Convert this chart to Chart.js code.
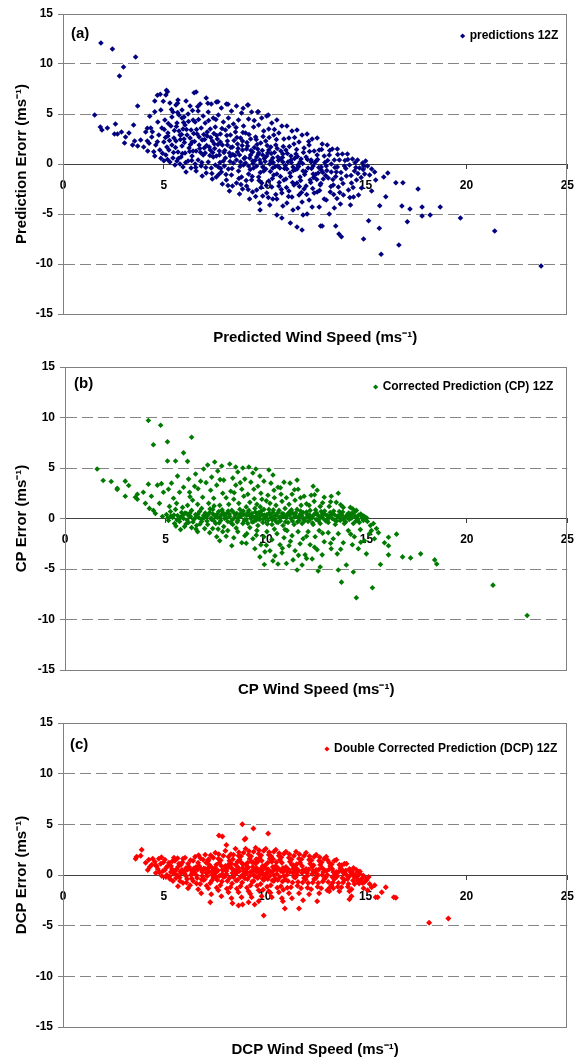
<!DOCTYPE html>
<html>
<head>
<meta charset="utf-8">
<title>Wind speed prediction errors (12Z)</title>
<script src="https://cdn.jsdelivr.net/npm/chart.js@4.4.1/dist/chart.umd.min.js"></script>
<style>
  html, body { margin: 0; background: #fff; overflow: hidden; }
  canvas { position: absolute; left: 0; }
</style>
</head>
<body>
<canvas id="chartA" width="584" height="352" style="top:0px"></canvas>
<canvas id="chartB" width="584" height="354" style="top:352px"></canvas>
<canvas id="chartC" width="584" height="355" style="top:706px"></canvas>
<script>
// tick values shared by the three panels
const X_TICKS = [0, 5, 10, 15, 20, 25];
const Y_TICKS = [-15, -10, -5, 0, 5, 10, 15];

// (a) raw predictions 12Z: [predicted wind speed, prediction error]
const predictions = [
  [1.57,4.9],[1.88,12.1],[2.45,11.5],[3.0,9.7],[2.8,8.8],[3.6,10.7],[1.85,3.7],[1.93,3.4],[2.2,3.6],[2.6,4.0],
  [2.55,3.0],[2.7,3.0],[2.9,3.2],[3.05,2.1],[3.27,3.1],[3.1,2.7],[3.5,3.9],[3.7,5.8],[3.45,1.9],[3.7,1.8],
  [3.55,2.3],[3.85,2.4],[4.0,1.7],[4.18,2.3],[4.1,3.2],[4.2,1.3],[4.35,3.6],[4.68,6.87],[4.82,6.97],[5.13,7.37],
  [4.55,6.3],[4.97,6.27],[4.3,4.77],[4.55,5.23],[4.85,5.4],[4.18,3.57],[4.43,3.23],[4.27,2.07],[4.68,2.23],[4.5,1.23],
  [4.93,1.07],[5.0,0.33],[4.85,0.57],[4.4,2.7],[4.6,1.9],[4.75,2.9],[4.55,0.8],[4.8,1.4],[4.9,3.6],[4.7,4.2],
  [5.1,6.9],[5.3,6.1],[5.45,5.2],[5.05,4.4],[5.35,3.8],[5.2,3.1],[5.5,2.6],[5.0,2.2],[5.4,1.9],[5.25,1.4],
  [5.1,0.9],[5.45,0.6],[5.3,0.2],[5.55,-0.1],[5.15,1.7],[5.4,4.7],[5.6,5.9],[5.2,2.8],
  [5.7,6.4],[5.9,5.4],[5.75,4.9],[5.65,4.1],[5.95,3.5],[5.8,2.9],[5.6,2.3],[5.9,1.8],[5.7,1.2],[5.85,0.7],
  [5.65,0.3],[5.95,-0.3],[5.8,0.0],[5.75,3.3],[6.0,2.5],[5.9,4.6],
  [6.1,6.3],[6.3,5.8],[6.2,5.0],[6.45,4.4],[6.05,3.9],[6.35,3.4],[6.15,2.9],[6.4,2.2],[6.25,1.6],[6.05,1.1],
  [6.4,0.8],[6.2,0.3],[6.35,-0.4],[6.1,-0.8],[6.45,1.3],[6.3,2.6],[6.0,4.7],
  [6.6,7.2],[6.8,6.0],[6.7,5.3],[6.95,4.8],[6.55,4.2],[6.85,3.6],[6.65,3.0],[6.9,2.4],[6.75,1.9],[6.6,1.3],
  [6.95,0.9],[6.7,0.4],[6.85,-0.2],[6.6,-0.7],[6.9,-1.2],[6.75,2.7],[6.55,0.0],[7.0,1.6],
  [7.1,6.6],[7.35,6.0],[7.2,5.2],[7.45,4.6],[7.05,4.1],[7.3,3.5],[7.15,2.8],[7.4,2.3],[7.25,1.7],[7.05,1.1],
  [7.45,0.7],[7.2,0.2],[7.35,-0.4],[7.1,-0.9],[7.4,-1.5],[7.3,1.4],[7.15,3.2],[7.5,2.0],
  [7.6,6.2],[7.85,5.6],[7.7,4.9],[7.95,4.2],[7.55,3.7],[7.8,3.0],[7.65,2.5],[7.9,1.9],[7.75,1.3],[7.6,0.8],
  [7.95,0.3],[7.7,-0.3],[7.85,-0.8],[7.6,-1.3],[7.9,-2.0],[7.75,0.9],[7.8,2.2],[7.55,-0.1],
  [8.1,6.0],[8.35,5.3],[8.2,4.6],[8.45,4.0],[8.05,3.4],[8.3,2.9],[8.15,2.3],[8.4,1.7],[8.25,1.1],[8.05,0.6],
  [8.45,0.1],[8.2,-0.5],[8.35,-1.1],[8.1,-1.6],[8.4,-2.2],[8.25,-2.7],[8.3,0.8],[8.15,1.9],[8.0,-0.2],
  [8.6,5.8],[8.85,5.1],[8.7,4.4],[8.95,3.8],[8.55,3.2],[8.8,2.6],[8.65,2.0],[8.9,1.4],[8.75,0.9],[8.6,0.4],
  [8.95,-0.1],[8.7,-0.7],[8.85,-1.3],[8.6,-1.9],[8.9,-2.5],[8.75,-3.0],[8.8,0.2],[8.65,1.2],[8.9,2.3],
  [9.15,5.9],[9.35,5.2],[9.2,4.5],[9.45,3.7],[9.05,3.1],[9.3,2.5],[9.15,1.8],[9.4,1.2],[9.25,0.6],[9.05,0.1],
  [9.45,-0.4],[9.2,-1.0],[9.35,-1.6],[9.1,-2.2],[9.4,-2.8],[9.25,-3.5],[9.3,0.9],[9.1,1.5],[9.4,0.3],[9.2,-0.2],
  [9.65,5.2],[9.85,4.6],[9.7,3.9],[9.95,3.3],[9.55,2.7],[9.8,2.1],[9.65,1.5],[9.9,0.9],[9.75,0.4],[9.6,-0.2],
  [9.95,-0.7],[9.7,-1.3],[9.85,-1.9],[9.6,-2.6],[9.9,-3.2],[9.75,-3.9],[9.77,-4.6],[9.8,0.1],[9.6,0.7],[9.9,-0.3],[9.7,1.1],
  [10.1,4.8],[10.35,4.1],[10.2,3.5],[10.45,2.9],[10.05,2.3],[10.3,1.7],[10.15,1.1],[10.4,0.6],[10.25,0.0],[10.05,-0.5],
  [10.45,-1.1],[10.2,-1.7],[10.35,-2.3],[10.1,-2.9],[10.4,-3.5],[10.25,-4.1],[10.6,-5.1],[10.3,0.3],[10.1,0.8],[10.4,-0.4],[10.2,1.4],
  [10.6,4.4],[10.85,3.8],[10.7,3.1],[10.95,2.5],[10.55,1.9],[10.8,1.3],[10.65,0.7],[10.9,0.2],[10.75,-0.4],[10.6,-1.0],
  [10.95,-1.6],[10.7,-2.2],[10.85,-2.9],[10.6,-3.5],[10.9,-4.2],[10.85,-5.4],[10.8,0.5],[10.65,-0.2],[10.9,1.0],
  [11.1,3.8],[11.35,3.3],[11.2,2.6],[11.45,2.0],[11.05,1.4],[11.3,0.8],[11.15,0.2],[11.4,-0.3],[11.25,-0.9],[11.05,-1.5],
  [11.45,-2.1],[11.2,-2.7],[11.35,-3.3],[11.1,-3.9],[11.4,-4.6],[11.27,-5.9],[11.6,-6.3],[11.3,0.4],[11.1,-0.5],
  [11.6,3.4],[11.85,2.9],[11.7,2.2],[11.95,1.6],[11.55,1.0],[11.8,0.5],[11.65,-0.1],[11.9,-0.7],[11.75,-1.3],[11.6,-1.9],
  [11.95,-2.5],[11.7,-3.1],[11.85,-3.8],[11.65,-4.4],[11.9,-5.1],[11.85,-6.6],[11.75,0.2],[11.6,-0.5],
  [12.1,3.0],[12.35,2.5],[12.2,1.9],[12.45,1.3],[12.05,0.7],[12.3,0.2],[12.15,-0.4],[12.4,-1.0],[12.25,-1.6],[12.05,-2.2],
  [12.45,-2.9],[12.2,-3.6],[12.35,-4.3],[12.1,-5.0],[12.3,0.4],[12.4,-0.2],
  [12.6,2.6],[12.85,2.0],[12.7,1.4],[12.95,0.8],[12.55,0.3],[12.8,-0.3],[12.65,-0.9],[12.9,-1.5],[12.75,-2.1],[12.6,-2.8],
  [12.95,-3.5],[12.7,-4.3],[12.77,-6.2],[12.85,-6.2],[12.8,-0.6],[12.6,0.9],
  [13.1,1.9],[13.35,1.5],[13.2,0.9],[13.45,0.4],[13.05,-0.2],[13.3,-0.8],[13.15,-1.4],[13.4,-2.1],[13.25,-2.8],[13.05,-3.6],
  [13.45,-4.4],[13.2,-5.0],[13.52,-6.2],[13.3,0.0],
  [13.6,1.5],[13.85,1.0],[13.7,0.4],[13.95,-0.2],[13.55,-0.8],[13.8,-1.5],[13.65,-2.3],[13.9,-3.1],[13.75,-4.0],[13.68,-7.0],
  [13.8,-7.27],[13.6,-0.3],
  [14.1,1.0],[14.35,0.5],[14.2,-0.1],[14.45,-0.7],[14.05,-1.2],[14.3,-1.9],[14.15,-2.6],[14.4,-3.3],[14.25,-4.1],[14.9,-7.5],
  [14.6,0.4],[14.85,0.1],[14.7,-0.4],[14.95,-1.0],[14.55,-1.6],[14.8,-2.4],[14.65,-3.1],[14.9,-0.2],[15.0,0.3],
  [15.1,-0.2],[15.3,-0.5],[15.2,-1.1],[15.45,-0.8],[15.15,-5.67],[15.7,-4.17],[15.68,-6.43],[15.77,-9.03],[15.5,-1.6],[15.3,-2.7],
  [16.0,-3.27],[16.5,-1.87],[16.85,-1.87],[17.6,-2.5],[16.8,-4.2],[17.2,-4.5],[17.8,-4.3],[17.8,-5.2],[18.2,-5.1],[18.7,-4.3],
  [17.07,-5.77],[16.65,-8.1],[19.7,-5.4],[21.4,-6.7],[23.7,-10.2],[16.1,-0.9],[15.9,-1.3],
  [6.5,7.13],[5.18,7.23],[5.68,6.07],[7.18,6.07],[7.68,6.23],[8.18,5.97],[8.93,5.57],[9.18,5.9],[9.68,5.23],[10.18,4.9],
  // denser core
  [5.02,3.45],[5.28,2.35],[5.48,1.15],[5.18,0.45],[5.38,5.45],[5.08,2.65],[5.52,3.35],[5.22,4.05],
  [5.58,1.65],[5.82,2.45],[5.62,3.75],[5.92,1.05],[5.72,0.55],[5.98,4.15],[5.68,5.15],[5.88,2.95],
  [6.02,2.15],[6.28,1.25],[6.48,3.05],[6.12,3.45],[6.38,0.35],[6.22,4.25],[6.42,5.35],[6.08,0.15],[6.32,1.95],
  [6.52,2.25],[6.78,1.55],[6.62,3.45],[6.88,0.15],[6.72,4.45],[6.98,2.95],[6.58,-0.35],[6.82,1.15],[6.68,5.75],
  [7.02,2.45],[7.28,0.85],[7.48,3.05],[7.12,1.85],[7.38,-0.95],[7.22,4.35],[7.42,1.15],[7.08,-0.35],[7.32,2.65],
  [7.52,1.55],[7.78,0.15],[7.62,2.85],[7.88,3.55],[7.72,-1.05],[7.98,1.15],[7.58,4.45],[7.82,-0.45],[7.68,1.95],
  [8.02,1.35],[8.28,0.25],[8.48,2.35],[8.12,2.85],[8.38,-0.45],[8.22,3.75],[8.42,0.95],[8.08,-1.05],[8.32,1.65],[8.18,-2.15],
  [8.52,0.85],[8.78,-0.25],[8.62,2.65],[8.88,1.85],[8.72,-1.45],[8.98,0.55],[8.58,3.65],[8.82,-2.05],[8.68,1.55],[8.92,3.15],
  [9.02,0.65],[9.28,-0.55],[9.48,1.65],[9.12,2.15],[9.38,-1.25],[9.22,2.95],[9.42,0.05],[9.08,-1.65],[9.32,1.35],[9.18,-2.55],[9.48,4.35],
  [9.52,0.35],[9.78,-0.85],[9.62,1.95],[9.88,1.35],[9.72,-1.65],[9.98,0.55],[9.58,2.45],[9.82,-2.35],[9.68,0.95],[9.92,2.75],[9.55,-3.25],
  [10.02,0.25],[10.28,-0.75],[10.48,1.15],[10.12,1.85],[10.38,-1.45],[10.22,2.65],[10.42,0.15],[10.08,-2.15],[10.32,1.05],[10.18,-3.35],[10.48,3.45],
  [10.52,-0.25],[10.78,-1.25],[10.62,1.55],[10.88,0.65],[10.72,-1.85],[10.98,-0.45],[10.58,2.45],[10.82,-2.55],[10.68,0.35],[10.92,1.75],[10.55,-3.05],
  [11.02,-0.15],[11.28,-1.25],[11.48,0.55],[11.12,1.05],[11.38,-1.85],[11.22,1.75],[11.42,-0.65],[11.08,-2.35],[11.32,0.15],[11.18,-3.25],[11.48,2.65],
  [11.52,-0.55],[11.78,-1.65],[11.62,0.75],[11.88,0.05],[11.72,-2.25],[11.98,-1.05],[11.58,1.45],[11.82,-2.85],[11.68,-0.25],[11.92,1.15],
  [12.02,-0.75],[12.28,-1.85],[12.48,0.15],[12.12,0.45],[12.38,-2.45],[12.22,1.25],[12.42,-1.35],[12.08,-3.05],[12.32,-0.45],[12.18,2.25],
  [12.52,-1.05],[12.78,-1.95],[12.62,0.45],[12.88,-0.85],[12.72,-2.65],[12.98,0.15],[12.58,-1.55],[12.82,1.45],[12.68,-0.35],
  [13.02,-1.15],[13.28,-2.25],[13.48,-0.35],[13.12,0.35],[13.38,-1.55],[13.22,1.35],[13.42,-3.05],[13.08,-0.65],
  [13.52,-1.25],[13.78,-0.85],[13.62,0.95],[13.88,-1.95],[13.72,-2.85],[13.98,0.35],[13.58,-3.45],
  [14.02,-0.45],[14.28,-1.15],[14.48,0.15],[14.12,0.45],[14.38,-2.35],[14.22,-3.35],
  [14.52,-0.35],[14.78,-1.35],[14.62,-0.95],[14.88,-0.55]
];

// (b) corrected prediction (CP) 12Z: [CP wind speed, CP error]
const corrected = [
  [4.15,9.7],[4.76,9.24],[4.4,7.3],[5.1,7.6],[6.3,8.05],[5.9,6.5],[5.1,5.7],[5.5,5.7],[6.1,5.66],[1.6,4.9],
  [1.9,3.76],[2.3,3.66],[2.6,2.87],[2.6,3.0],[3.0,3.7],[3.17,3.27],[3.0,2.2],[3.6,2.4],[3.6,1.9],[3.5,2.1],
  [3.9,2.6],[4.15,3.4],[4.6,3.3],[4.8,3.45],[4.3,2.2],[4.0,1.5],[4.2,1.0],[4.4,0.8],[4.7,1.5],[4.9,2.6],
  [4.5,0.5],[4.85,0.2],
  [5.05,0.4],[5.15,-0.2],[5.25,0.7],[5.35,0.1],[5.45,-0.5],[5.5,0.9],[5.6,0.3],[5.7,-0.3],[5.8,0.6],[5.9,0.0],
  [5.95,-0.8],[5.2,1.2],[5.55,1.5],[5.85,1.1],[5.4,2.0],[5.7,2.6],[5.3,3.5],[5.9,3.1],[5.6,4.2],[5.15,2.9],[5.75,-1.1],
  [6.05,0.5],[6.15,-0.4],[6.25,0.2],[6.3,0.8],[6.4,-0.1],[6.5,0.4],[6.55,-0.7],[6.65,0.1],[6.7,0.7],[6.8,-0.3],
  [6.9,0.3],[6.95,-1.0],[6.1,1.3],[6.35,1.8],[6.6,1.4],[6.85,2.1],[6.2,2.6],[6.45,3.2],[6.75,3.7],[6.5,4.4],
  [6.9,4.9],[6.15,3.9],[6.6,-1.3],[6.3,-0.9],[6.8,1.0],
  [7.05,0.2],[7.1,-0.6],[7.2,0.6],[7.3,-0.1],[7.35,0.9],[7.45,0.3],[7.5,-0.5],[7.6,0.1],[7.65,0.7],[7.75,-0.2],
  [7.8,0.4],[7.9,-0.8],[7.95,0.0],[7.15,1.5],[7.4,2.0],[7.7,1.3],[7.25,2.8],[7.55,3.3],[7.85,2.5],[7.3,4.1],
  [7.6,4.7],[7.1,5.3],[7.45,5.6],[7.8,5.2],[7.9,3.8],[7.2,-1.4],[7.55,-1.8],[7.85,-1.3],[7.7,-2.2],[7.35,-1.0],
  [8.05,0.5],[8.1,-0.3],[8.2,0.2],[8.3,0.8],[8.35,-0.6],[8.45,0.1],[8.55,0.5],[8.6,-0.2],[8.7,0.9],[8.75,0.2],
  [8.85,-0.5],[8.9,0.4],[8.95,-0.1],[8.15,1.4],[8.4,1.9],[8.65,1.5],[8.9,2.2],[8.25,2.7],[8.5,3.3],[8.8,2.9],
  [8.35,4.0],[8.6,4.6],[8.95,3.9],[8.2,5.4],[8.5,5.1],[8.85,5.0],[8.1,-1.2],[8.4,-1.9],[8.6,-1.3],[8.8,-2.4],
  [8.3,-2.7],[8.95,-1.7],
  [9.05,0.3],[9.1,-0.5],[9.15,0.8],[9.25,0.0],[9.3,0.5],[9.4,-0.3],[9.45,1.0],[9.5,0.2],[9.6,-0.7],[9.65,0.6],
  [9.7,-0.1],[9.8,0.4],[9.85,-0.4],[9.9,0.9],[9.95,0.1],[9.2,1.6],[9.55,1.4],[9.8,1.9],[9.1,2.4],[9.4,2.9],
  [9.75,2.5],[9.25,3.6],[9.6,3.2],[9.9,3.7],[9.35,4.5],[9.7,4.2],[9.15,5.1],[9.5,4.9],[9.05,-1.5],[9.35,-2.0],
  [9.55,-1.2],[9.75,-2.6],[9.9,-1.8],[9.45,-3.0],[9.7,-3.8],[9.95,-3.3],[9.2,-0.9],
  [10.05,0.4],[10.1,-0.2],[10.15,0.9],[10.25,0.1],[10.3,-0.6],[10.35,0.6],[10.45,-0.1],[10.5,0.3],[10.6,-0.4],[10.65,0.8],
  [10.7,0.0],[10.8,0.5],[10.85,-0.7],[10.9,0.2],[10.95,1.0],[10.2,1.5],[10.5,1.3],[10.8,1.7],[10.1,2.3],[10.4,2.8],
  [10.75,2.4],[10.25,3.5],[10.6,3.1],[10.9,3.6],[10.35,4.3],[10.15,4.8],[10.05,-1.3],[10.3,-2.1],[10.55,-1.5],[10.7,-2.6],
  [10.9,-1.9],[10.2,-3.2],[10.45,-3.7],[10.8,-3.4],[10.6,-4.5],[10.35,-4.2],[10.95,-1.1],
  [11.05,0.3],[11.1,-0.4],[11.2,0.7],[11.25,0.0],[11.35,0.5],[11.4,-0.6],[11.5,0.2],[11.55,0.9],[11.65,-0.2],[11.7,0.4],
  [11.8,-0.5],[11.85,0.6],[11.95,0.0],[11.15,1.4],[11.45,1.8],[11.75,1.3],[11.3,2.4],[11.6,2.9],[11.9,2.2],[11.2,3.5],
  [11.55,3.8],[11.05,-1.2],[11.3,-1.7],[11.6,-1.3],[11.85,-2.0],[11.15,-2.7],[11.45,-3.2],[11.7,-2.5],[11.95,-3.6],[11.35,-4.1],
  [11.8,-4.6],[11.55,-5.1],
  [12.05,0.4],[12.1,-0.3],[12.2,0.8],[12.3,0.1],[12.35,-0.6],[12.45,0.5],[12.5,-0.1],[12.6,0.3],[12.7,-0.5],[12.75,0.7],
  [12.85,0.0],[12.95,0.4],[12.15,1.3],[12.4,1.7],[12.7,1.2],[12.25,2.3],[12.55,2.8],[12.9,2.1],[12.35,3.2],[12.1,-1.3],
  [12.45,-1.8],[12.65,-1.2],[12.9,-2.3],[12.2,-2.6],[12.55,-3.1],[12.8,-3.6],[12.3,-4.0],[12.7,-4.8],[12.6,-5.2],
  [13.05,0.3],[13.1,-0.4],[13.2,0.6],[13.3,0.0],[13.4,0.4],[13.45,-0.6],[13.55,0.2],[13.65,0.7],[13.7,-0.2],[13.8,0.3],
  [13.9,-0.5],[13.95,0.1],[13.15,1.2],[13.5,1.6],[13.85,1.1],[13.25,2.2],[13.6,2.5],[13.1,-1.4],[13.35,-2.0],[13.6,-1.5],
  [13.85,-2.4],[13.25,-3.0],[13.55,-3.5],[13.6,-5.1],[13.76,-6.3],[14.0,-4.6],
  [14.05,0.4],[14.15,-0.1],[14.25,0.5],[14.35,-0.5],[14.45,0.2],[14.55,0.0],[14.65,-0.4],[14.75,0.3],[14.85,-0.2],[14.95,0.1],
  [14.2,1.1],[14.5,0.8],[14.1,-1.2],[14.4,-1.8],[14.7,-1.1],[14.3,-2.6],[14.6,-3.0],[14.35,-5.3],[14.5,-7.85],[14.9,-2.2],
  [15.05,-0.3],[15.2,-0.7],[15.35,-0.5],[15.5,-1.0],[15.15,-1.5],[15.4,-2.0],[15.3,-6.85],[15.7,-4.56],[16.1,-3.6],[16.1,-2.7],
  [16.5,-1.55],[16.1,-1.85],[16.8,-3.8],[17.2,-3.9],[17.7,-3.5],[18.4,-4.1],[18.5,-4.5],[21.3,-6.6],[23.0,-9.6],[15.6,-1.4],
  [15.9,-2.4],[15.0,-3.5],[15.25,-1.2],
  [5.12,0.05],[5.42,0.35],[5.68,-0.05],[5.88,0.35],[6.08,-0.15],[6.22,0.55],[6.48,0.05],[6.62,0.45],[6.78,-0.05],[6.98,0.55],
  [7.12,0.35],[7.28,0.05],[7.42,-0.25],[7.58,0.45],[7.72,0.15],[7.88,0.55],[8.02,0.05],[8.18,0.45],[8.32,-0.15],[8.48,0.35],
  [8.62,0.05],[8.78,0.55],[8.92,-0.25],[9.08,0.55],[9.22,0.25],[9.38,0.15],[9.52,-0.15],[9.58,0.45],[9.72,0.25],[9.88,-0.05],
  [10.02,0.15],[10.18,0.55],[10.32,-0.15],[10.42,0.25],[10.58,0.55],[10.72,-0.25],[10.88,0.45],[11.02,0.05],[11.18,0.35],[11.32,-0.25],
  [11.48,0.55],[11.62,0.15],[11.78,0.25],[11.92,-0.25],[12.08,0.15],[12.22,-0.05],[12.38,0.35],[12.52,0.55],[12.68,0.05],[12.82,0.45],
  [12.98,-0.25],[13.12,0.15],[13.28,0.45],[13.42,-0.15],[13.58,0.25],[13.72,0.45],[13.88,-0.15],[14.02,0.15],[14.18,0.25],[14.32,0.45],
  [14.48,-0.25],[14.62,0.35],[14.78,0.05],
  // denser band and spread
  [5.27,0.25],[5.57,-0.15],[5.77,0.15],[5.97,0.55],[6.17,0.25],[6.37,-0.35],[6.57,0.25],[6.72,-0.55],[6.92,0.05],[7.07,-0.25],
  [7.22,0.95],[7.37,0.45],[7.52,0.15],[7.67,-0.45],[7.82,0.85],[7.97,0.25],[8.12,0.75],[8.27,-0.45],[8.42,0.55],[8.57,-0.35],
  [8.72,0.35],[8.87,0.75],[9.02,-0.15],[9.17,0.35],[9.32,-0.35],[9.47,0.65],[9.62,-0.05],[9.77,0.75],[9.92,0.35],[10.07,-0.55],
  [10.22,0.35],[10.37,0.85],[10.52,-0.35],[10.67,0.15],[10.82,0.25],[10.97,-0.35],[11.12,0.55],[11.27,0.85],[11.42,0.15],[11.57,-0.35],
  [11.72,0.75],[11.87,-0.05],[12.02,0.65],[12.17,0.35],[12.32,-0.45],[12.47,0.85],[12.62,-0.25],[12.77,0.25],[12.92,0.75],[13.07,-0.15],
  [13.22,0.35],[13.37,0.75],[13.52,-0.25],[13.67,0.05],[13.82,0.65],[13.97,-0.35],[14.12,0.55],[14.27,0.05],[14.42,0.65],[14.57,-0.15],
  [14.72,0.45],[14.87,0.25],[15.02,0.05],
  [6.22,2.15],[6.62,2.95],[7.02,3.55],[7.42,1.25],[7.72,3.85],[8.02,2.05],[8.42,2.55],[8.72,3.55],[9.02,1.15],[9.42,1.95],
  [9.72,1.15],[10.02,1.75],[10.42,2.05],[10.72,3.05],[11.02,2.05],[11.42,2.85],[11.72,2.05],[12.02,1.45],[12.42,2.35],[12.82,1.55],
  [13.22,1.65],[13.72,1.35],[14.32,0.95],[7.62,-1.05],[8.02,-1.75],[8.52,-0.95],[9.02,-2.45],[9.52,-1.65],[10.02,-2.65],[10.42,-1.05],
  [10.82,-2.95],[11.22,-2.25],[11.62,-3.65],[12.02,-1.75],[12.42,-2.85],[12.82,-1.45],[13.22,-2.45],[13.72,-3.05],[14.22,-1.55],[14.72,-2.35],
  [11.02,-4.45],[12.02,-3.95],[9.92,-4.55],[6.02,-0.55],[5.52,-0.75],[6.52,-1.05]
];

// (c) double corrected prediction (DCP) 12Z: [DCP wind speed, DCP error]
const doubleCorrected = [
  [8.89,5.0],[9.44,4.6],[10.17,4.1],[7.73,3.9],[7.9,3.8],[9.0,3.5],[9.05,3.6],[8.1,2.97],[3.9,2.5],[3.6,1.6],
  [3.65,1.8],[3.85,1.9],[4.25,1.5],[4.88,1.75],[18.15,-4.7],[19.1,-4.3],[16.4,-2.2],[16.5,-2.25],[15.8,-1.7],[16.0,-1.2],
  [15.5,-2.2],[15.6,-2.2],[15.1,-1.5],[14.9,-1.3],[14.85,-0.8],[14.6,-0.6],[14.3,-2.1],[14.2,-2.4],[13.4,-1.3],[13.2,-1.6],
  [11.9,-2.5],[11.0,-3.3],[9.95,-4.0],[9.5,-2.9],[8.4,-2.8],[8.7,-3.0],[8.9,-2.9],[7.3,-2.7],[11.7,-3.3],[12.6,-2.6],[10.9,-2.6],
  [4.1,1.2],[4.3,0.8],[4.45,1.6],[4.2,0.5],[4.4,1.0],
  [4.55,1.3],[4.7,0.6],[4.85,1.1],[4.6,0.2],[4.95,0.4],[4.75,1.6],[4.9,-0.1],[4.65,0.9],
  [5.05,1.5],[5.2,0.9],[5.35,0.3],[5.1,-0.2],[5.45,-0.6],[5.25,1.2],[5.4,0.6],[5.15,0.0],[5.3,-0.4],[5.5,1.7],[5.05,0.5],[5.35,0.9],
  [5.55,1.4],[5.7,0.8],[5.85,0.2],[5.6,-0.3],[5.95,-0.8],[5.75,1.1],[5.9,0.5],[5.65,0.0],[5.8,-0.6],[5.55,0.4],[5.95,1.6],[5.7,-1.1],[5.85,1.0],
  [6.05,1.7],[6.2,1.1],[6.35,0.5],[6.1,-0.1],[6.45,-0.6],[6.25,0.8],[6.4,0.2],[6.15,-0.4],[6.3,-1.0],[6.05,0.4],[6.45,1.4],[6.2,-1.3],[6.35,0.0],[6.1,0.7],
  [6.55,1.8],[6.7,1.2],[6.85,0.6],[6.6,0.0],[6.95,-0.5],[6.75,0.9],[6.9,0.3],[6.65,-0.3],[6.8,-0.9],[6.55,0.5],[6.95,1.5],[6.7,-1.4],[6.85,-1.8],[6.6,0.8],[6.9,-0.1],
  [7.05,2.0],[7.2,1.4],[7.35,0.8],[7.1,0.2],[7.45,-0.3],[7.25,1.0],[7.4,0.4],[7.15,-0.1],[7.3,-0.8],[7.05,0.6],[7.45,1.7],[7.2,-1.3],[7.35,-1.9],[7.1,1.2],[7.4,0.0],[7.25,0.3],
  [7.55,2.2],[7.7,1.6],[7.85,0.9],[7.6,0.3],[7.95,-0.2],[7.75,1.2],[7.9,0.5],[7.65,-0.5],[7.8,-1.0],[7.55,0.7],[7.95,1.9],[7.7,-1.5],[7.85,-2.1],[7.6,1.0],[7.9,0.1],[7.75,-0.1],
  [8.05,2.4],[8.2,1.8],[8.35,1.1],[8.1,0.4],[8.45,-0.2],[8.25,1.4],[8.4,0.6],[8.15,-0.6],[8.3,-1.2],[8.05,0.9],[8.45,2.0],[8.2,-1.7],[8.35,-2.3],[8.1,0.1],[8.4,0.2],[8.25,-0.3],[8.3,0.8],
  [8.55,2.6],[8.7,1.9],[8.85,1.2],[8.6,0.5],[8.95,-0.1],[8.75,1.5],[8.9,0.7],[8.65,-0.5],[8.8,-1.1],[8.55,1.0],[8.95,2.2],[8.7,-1.7],[8.85,-2.2],[8.6,0.2],[8.9,0.0],[8.75,0.4],[8.8,-0.2],[8.65,1.3],
  [9.05,2.6],[9.2,2.0],[9.35,1.3],[9.1,0.6],[9.45,0.0],[9.25,1.6],[9.4,0.8],[9.15,-0.4],[9.3,-1.0],[9.05,1.0],[9.45,2.3],[9.2,-1.6],[9.35,-2.2],[9.1,0.2],[9.4,0.4],[9.25,-0.1],[9.3,0.3],[9.15,1.2],[9.45,-0.6],[9.2,-2.7],
  [9.55,2.7],[9.7,2.1],[9.85,1.4],[9.6,0.7],[9.95,0.1],[9.75,1.7],[9.9,0.9],[9.65,-0.3],[9.8,-0.9],[9.55,1.1],[9.95,2.4],[9.7,-1.5],[9.85,-2.1],[9.6,0.3],[9.9,0.5],[9.75,0.0],[9.8,0.6],[9.65,1.3],[9.95,-0.5],[9.7,-2.6],
  [10.05,2.6],[10.2,2.0],[10.35,1.3],[10.1,0.6],[10.45,0.0],[10.25,1.6],[10.4,0.8],[10.15,-0.4],[10.3,-1.0],[10.05,1.0],[10.45,2.3],[10.2,-1.6],[10.35,-2.2],[10.1,0.2],[10.4,0.4],[10.25,-0.1],[10.3,0.3],[10.15,1.2],[10.45,-0.6],
  [10.55,2.5],[10.7,1.9],[10.85,1.2],[10.6,0.5],[10.95,-0.1],[10.75,1.5],[10.9,0.7],[10.65,-0.5],[10.8,-1.1],[10.55,0.9],[10.95,2.1],[10.7,-1.7],[10.85,-2.3],[10.6,0.1],[10.9,0.3],[10.75,-0.2],[10.8,0.4],
  [11.05,2.3],[11.2,1.7],[11.35,1.0],[11.1,0.4],[11.45,-0.2],[11.25,1.3],[11.4,0.6],[11.15,-0.6],[11.3,-1.2],[11.05,0.8],[11.45,1.9],[11.2,-1.8],[11.35,-2.3],[11.1,0.0],[11.4,0.2],[11.25,0.3],
  [11.55,2.3],[11.7,1.6],[11.85,0.9],[11.6,0.3],[11.95,-0.3],[11.75,1.2],[11.9,0.5],[11.65,-0.7],[11.8,-1.3],[11.55,0.7],[11.95,1.9],[11.7,-1.8],[11.6,0.0],[11.85,0.2],
  [12.05,2.2],[12.2,1.5],[12.35,0.8],[12.1,0.2],[12.45,-0.4],[12.25,1.1],[12.4,0.4],[12.15,-0.8],[12.3,-1.4],[12.05,0.6],[12.45,1.8],[12.2,-1.9],[12.1,-0.1],[12.35,0.1],
  [12.55,2.0],[12.7,1.4],[12.85,0.7],[12.6,0.1],[12.95,-0.4],[12.75,1.0],[12.9,0.3],[12.65,-0.8],[12.8,-1.3],[12.55,0.5],[12.95,1.6],[12.7,-1.8],[12.6,-0.1],[12.85,0.0],
  [13.05,1.8],[13.2,1.2],[13.35,0.6],[13.1,0.0],[13.45,-0.4],[13.25,0.9],[13.4,0.3],[13.15,-0.7],[13.3,-1.0],[13.05,0.4],[13.45,1.4],[13.1,-1.5],[13.35,-0.2],
  [13.55,1.5],[13.7,1.0],[13.85,0.5],[13.6,-0.1],[13.95,-0.5],[13.75,0.7],[13.9,0.2],[13.65,-0.8],[13.8,-1.2],[13.55,0.3],[13.95,1.1],[13.7,-1.6],[13.85,-0.3],
  [14.05,1.1],[14.2,0.6],[14.35,0.1],[14.1,-0.4],[14.45,-0.9],[14.25,0.3],[14.4,0.7],[14.15,-0.9],[14.3,-1.4],[14.05,0.0],[14.45,-0.2],[14.2,-1.6],
  [14.55,0.5],[14.7,0.1],[14.85,-0.3],[14.6,-0.1],[14.95,-0.7],[14.75,-0.5],[14.65,0.3],
  [15.05,-0.5],[15.2,-0.9],[15.3,-1.2],[15.45,-1.0],[15.15,-0.2],
  // denser core
  [4.58,0.95],[4.78,0.25],[4.98,1.25],[5.12,0.75],[5.28,-0.15],[5.42,1.35],[5.48,0.15],
  [5.62,0.55],[5.78,-0.25],[5.92,1.25],[5.68,1.65],[5.82,0.35],
  [6.02,0.15],[6.18,0.55],[6.32,1.45],[6.48,0.65],[6.12,-0.75],[6.38,-0.35],
  [6.52,0.25],[6.68,0.55],[6.82,1.65],[6.98,0.65],[6.62,-0.85],[6.88,-0.45],[6.72,1.95],
  [7.02,-0.45],[7.18,0.65],[7.32,1.95],[7.48,0.55],[7.12,-1.05],[7.38,-0.55],[7.22,1.55],
  [7.52,0.15],[7.68,0.45],[7.82,1.45],[7.98,0.55],[7.62,-1.25],[7.88,-0.65],[7.72,2.05],[7.58,-0.25],
  [8.02,-0.15],[8.18,0.75],[8.32,2.05],[8.48,0.45],[8.12,-1.35],[8.38,-0.85],[8.22,1.05],[8.42,1.55],
  [8.52,0.05],[8.68,0.75],[8.82,1.85],[8.98,0.35],[8.62,-1.35],[8.88,-0.75],[8.72,2.25],[8.58,-0.55],[8.92,1.05],
  [9.02,-0.35],[9.18,0.75],[9.32,1.85],[9.48,0.55],[9.12,-1.25],[9.38,-0.65],[9.22,2.35],[9.42,1.25],[9.08,0.35],[9.28,-1.85],
  [9.52,-0.15],[9.68,0.45],[9.82,1.95],[9.98,0.85],[9.62,-1.05],[9.88,-0.35],[9.72,2.45],[9.58,1.55],[9.92,-1.45],[9.78,0.25],
  [10.02,-0.25],[10.18,0.55],[10.32,1.85],[10.48,0.65],[10.12,-1.15],[10.38,-0.55],[10.22,2.25],[10.42,1.55],[10.08,0.15],[10.28,-1.75],
  [10.52,-0.35],[10.68,0.65],[10.82,1.75],[10.98,0.45],[10.62,-1.25],[10.88,-0.65],[10.72,2.15],[10.58,1.25],[10.92,-1.45],
  [11.02,-0.45],[11.18,0.55],[11.32,1.55],[11.48,0.35],[11.12,-1.25],[11.38,-0.75],[11.22,2.05],[11.42,0.95],
  [11.52,-0.25],[11.68,0.45],[11.82,1.55],[11.98,0.45],[11.62,-1.05],[11.88,-0.75],[11.72,2.05],[11.58,1.05],
  [12.02,-0.45],[12.18,0.55],[12.32,1.45],[12.48,0.35],[12.12,-1.25],[12.38,-0.75],[12.22,1.85],[12.42,0.95],
  [12.52,-0.35],[12.68,0.55],[12.82,1.25],[12.98,0.45],[12.62,-1.15],[12.88,-0.65],[12.72,1.75],
  [13.02,-0.25],[13.18,0.55],[13.32,1.05],[13.48,0.15],[13.12,1.45],[13.38,-0.75],[13.22,-1.25],
  [13.52,-0.25],[13.68,0.35],[13.82,0.95],[13.98,0.15],[13.62,-1.15],[13.88,-0.75],
  [14.02,0.45],[14.18,-0.15],[14.32,0.35],[14.48,0.05],[14.12,-1.15],[14.38,-0.55],
  [14.58,-0.35],[14.72,0.35],[14.88,-0.05],[14.68,-0.85]
];

const FONT_FAMILY = "'Liberation Sans', Arial, sans-serif";
const TICK_FONT = { family: FONT_FAMILY, size: 12, weight: 'bold' };
const TITLE_FONT = { family: FONT_FAMILY, size: 15, weight: 'bold' };
const FRAME_COLOR = '#808080';

// frame around the plot, the panel letter and the little legend in the top right corner
const panelDecor = {
  id: 'panelDecor',
  beforeDatasetsDraw(chart, args, opts) {
    const { ctx, chartArea: a } = chart;
    ctx.save();
    ctx.strokeStyle = FRAME_COLOR;
    ctx.lineWidth = 1;
    ctx.strokeRect(Math.round(a.left) + 0.5, Math.round(a.top) + 0.5,
      Math.round(a.width) - 1, Math.round(a.height));
    ctx.restore();
  },
  afterDatasetsDraw(chart, args, opts) {
    const { ctx, chartArea: a } = chart;
    ctx.save();
    ctx.fillStyle = '#000';
    ctx.textBaseline = 'middle';
    ctx.font = 'bold 15px ' + FONT_FAMILY;
    ctx.textAlign = 'left';
    ctx.fillText(opts.letter, a.left + opts.letterDx, a.top + opts.letterDy);

    ctx.font = 'bold 12px ' + FONT_FAMILY;
    ctx.textAlign = 'right';
    const tx = a.right - opts.legendInset;
    const ty = a.top + opts.legendDy;
    ctx.fillText(opts.legend, tx, ty);
    const w = ctx.measureText(opts.legend).width;
    // diamond marker
    const mx = tx - w - 7, r = 2.6;
    ctx.fillStyle = opts.color;
    ctx.beginPath();
    ctx.moveTo(mx, ty - r);
    ctx.lineTo(mx + r, ty);
    ctx.lineTo(mx, ty + r);
    ctx.lineTo(mx - r, ty);
    ctx.closePath();
    ctx.fill();
    ctx.restore();
  }
};

function makePanel(canvasId, points, p) {
  return new Chart(document.getElementById(canvasId), {
    type: 'scatter',
    data: {
      datasets: [{
        label: p.legend,
        data: points.map(([x, y]) => ({ x, y })),
        pointStyle: 'rectRot',
        pointRadius: p.radius,
        pointBorderWidth: 0,
        backgroundColor: p.color,
        borderColor: p.color
      }]
    },
    options: {
      responsive: false,
      animation: false,
      devicePixelRatio: 1,
      // the "25" tick label sets the right padding (about 17px), the canvas is a bit wider than the page
      layout: { padding: { top: p.padTop, right: 0, bottom: 0, left: 0 } },
      plugins: {
        legend: { display: false },
        tooltip: { enabled: false },
        panelDecor: {
          letter: p.letter, letterDx: p.letterDx, letterDy: p.letterDy,
          legend: p.legend, legendDy: p.legendDy, legendInset: p.legendInset, color: p.color
        }
      },
      scales: {
        y: {
          type: 'linear',
          position: 'left',
          min: Y_TICKS[0],
          max: Y_TICKS[Y_TICKS.length - 1],
          afterBuildTicks: s => { s.ticks = Y_TICKS.map(v => ({ value: v })); },
          afterFit: s => { s.width = p.axisWidth; },
          ticks: { color: '#000', font: TICK_FONT, padding: 5 },
          grid: {
            color: c => (c.tick && (c.tick.value === 0 || Math.abs(c.tick.value) === 15)) ? 'rgba(0,0,0,0)' : '#858585',
            tickColor: FRAME_COLOR,
            tickLength: 5,
            lineWidth: 1
          },
          border: { display: true, color: FRAME_COLOR, dash: [11, 5] },
          title: { display: true, text: p.yTitle, color: '#000', font: TITLE_FONT, padding: { top: 13, bottom: 0 } }
        },
        x: {
          type: 'linear',
          position: { y: 0 },
          min: X_TICKS[0],
          max: X_TICKS[X_TICKS.length - 1],
          afterBuildTicks: s => { s.ticks = X_TICKS.map(v => ({ value: v })); },
          ticks: { color: '#000', font: TICK_FONT, padding: 10, maxRotation: 0, autoSkip: false },
          grid: { drawOnChartArea: false, drawTicks: true, tickLength: 4, tickColor: '#404040', color: '#404040' },
          border: { display: true, color: '#404040', width: 1 }
        },
        xt: {
          type: 'linear',
          position: 'bottom',
          min: X_TICKS[0],
          max: X_TICKS[X_TICKS.length - 1],
          ticks: { display: false },
          grid: { display: false, drawTicks: false },
          border: { display: false },
          afterFit: s => { s.height = p.bottomHeight; },
          title: { display: true, text: p.xTitle, color: '#000', font: TITLE_FONT, padding: { top: 0, bottom: p.xTitlePad } }
        }
      }
    },
    plugins: [panelDecor]
  });
}

makePanel('chartA', predictions, {
  color: '#000080', radius: 2.8, letter: '(a)', legend: 'predictions 12Z',
  yTitle: 'Prediction Erorr (ms\u207B\u00B9)', xTitle: 'Predicted Wind Speed (ms\u207B\u00B9)',
  padTop: 14, axisWidth: 63, bottomHeight: 38, xTitlePad: 5,
  letterDx: 8, letterDy: 20, legendDy: 22, legendInset: 9
});

makePanel('chartB', corrected, {
  color: '#007a00', radius: 2.8, letter: '(b)', legend: 'Corrected Prediction (CP) 12Z',
  yTitle: 'CP Error (ms\u207B\u00B9)', xTitle: 'CP Wind Speed (ms\u207B\u00B9)',
  padTop: 15, axisWidth: 65, bottomHeight: 36, xTitlePad: 7,
  letterDx: 9, letterDy: 17, legendDy: 20, legendInset: 14
});

makePanel('chartC', doubleCorrected, {
  color: '#ff0000', radius: 3, letter: '(c)', legend: 'Double Corrected Prediction (DCP) 12Z',
  yTitle: 'DCP Error (ms\u207B\u00B9)', xTitle: 'DCP Wind Speed (ms\u207B\u00B9)',
  padTop: 17, axisWidth: 63, bottomHeight: 34, xTitlePad: 2,
  letterDx: 7, letterDy: 22, legendDy: 26, legendInset: 10
});
</script>
</body>
</html>
